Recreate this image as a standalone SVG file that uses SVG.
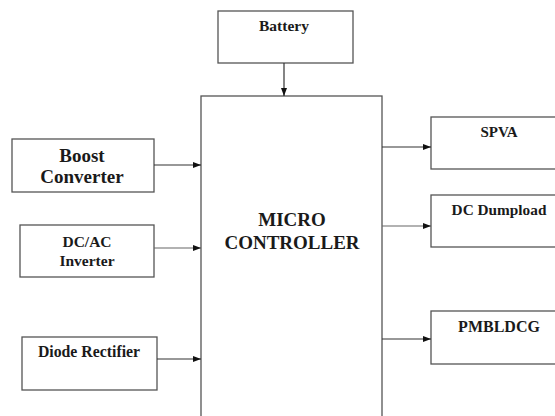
<svg xmlns="http://www.w3.org/2000/svg" width="555" height="416" viewBox="0 0 555 416">
<style>
.box{fill:#fff;stroke:#555;stroke-width:1.3}
.t{font-family:"Liberation Serif","Times New Roman",serif;font-weight:bold;fill:#1a1a1a;text-anchor:middle}
.c{stroke:#333;stroke-width:1.2;fill:none}
.lt{stroke:#666}
</style>
<defs>
<marker id="ah" markerWidth="8" markerHeight="6" refX="8" refY="3" orient="auto" markerUnits="userSpaceOnUse">
<path d="M0,0 L8,3 L0,6 Z" fill="#111"/>
</marker>
</defs>
<rect width="555" height="416" fill="#fff"/>
<g id="battery">
<rect class="box" x="218" y="11" width="135" height="52"/>
<text class="t" x="284" y="31" font-size="15.5">Battery</text>
</g>
<g id="micro">
<rect class="box" x="201" y="96" width="181" height="340"/>
<text class="t" x="292" y="226" font-size="19">MICRO</text>
<text class="t" x="292" y="249" font-size="19">CONTROLLER</text>
</g>
<g id="boost">
<rect class="box" x="12" y="139" width="142" height="53"/>
<text class="t" x="82" y="162" font-size="19">Boost</text>
<text class="t" x="82" y="183" font-size="19">Converter</text>
</g>
<g id="dcac">
<rect class="box" x="20" y="225" width="134" height="52"/>
<text class="t" x="87" y="247" font-size="15.5">DC/AC</text>
<text class="t" x="87" y="266" font-size="15.5">Inverter</text>
</g>
<g id="diode">
<rect class="box" x="22" y="337" width="135" height="53"/>
<text class="t" x="89" y="357" font-size="15.8">Diode Rectifier</text>
</g>
<g id="spva">
<rect class="box" x="431" y="117" width="140" height="52"/>
<text class="t" x="499" y="137" font-size="15">SPVA</text>
</g>
<g id="dumpload">
<rect class="box" x="431" y="195" width="140" height="52"/>
<text class="t" x="499" y="215" font-size="15.3">DC Dumpload</text>
</g>
<g id="pmbldcg">
<rect class="box" x="431" y="311" width="140" height="53"/>
<text class="t" x="499" y="332" font-size="16">PMBLDCG</text>
</g>
<g id="connectors">
<line class="c" x1="284" y1="63" x2="284" y2="96" marker-end="url(#ah)"/>
<line class="c" x1="154" y1="165" x2="201" y2="165" marker-end="url(#ah)"/>
<line class="c lt" x1="154" y1="248" x2="201" y2="248" marker-end="url(#ah)"/>
<line class="c" x1="157" y1="359" x2="201" y2="359" marker-end="url(#ah)"/>
<line class="c" x1="382" y1="147" x2="431" y2="147" marker-end="url(#ah)"/>
<line class="c lt" x1="382" y1="226" x2="431" y2="226" marker-end="url(#ah)"/>
<line class="c" x1="382" y1="339" x2="431" y2="339" marker-end="url(#ah)"/>
</g>
</svg>
